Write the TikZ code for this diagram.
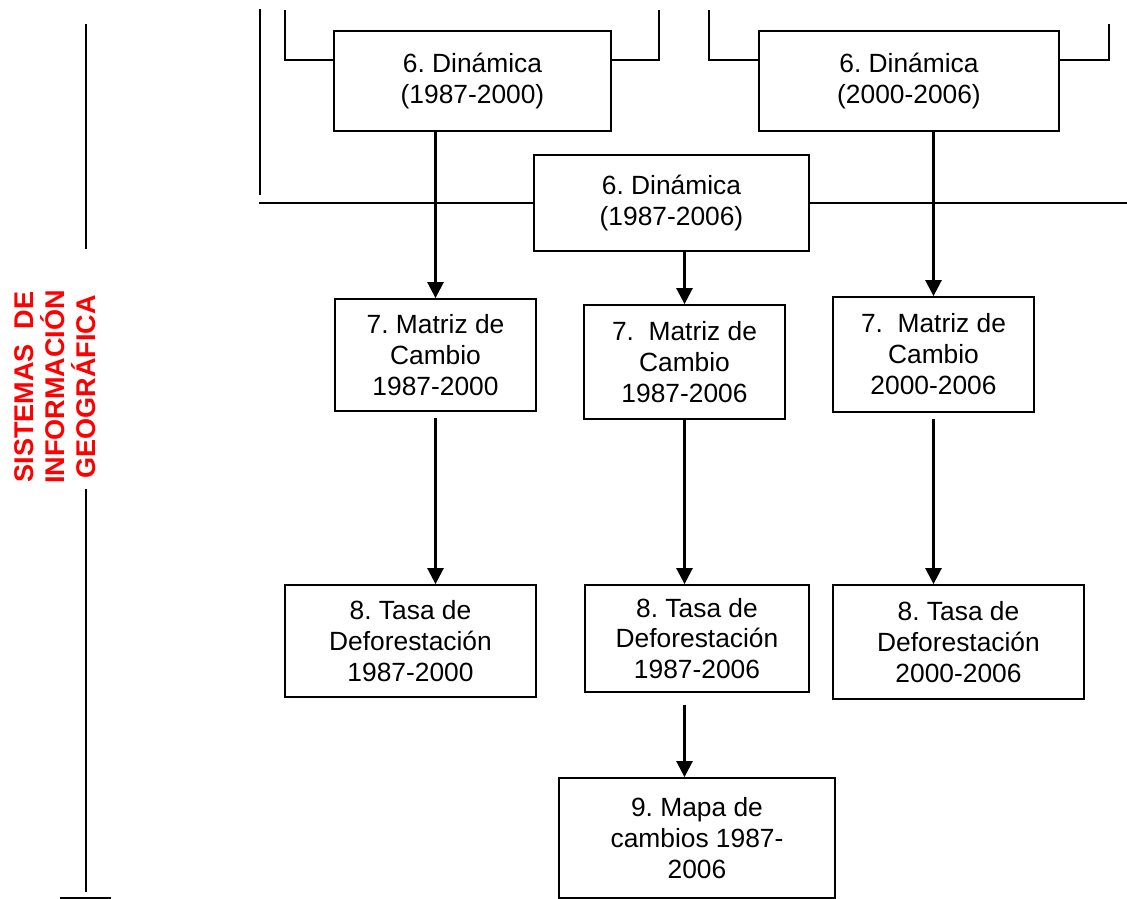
\documentclass[tikz,border=0pt]{standalone}
\usepackage{fontspec}
\setmainfont{Liberation Sans}
\usetikzlibrary{arrows.meta, positioning, calc}
\frenchspacing

\begin{document}
\begin{tikzpicture}[x=0.02cm, y=-0.02cm,
    >={Triangle[length=0.32cm, width=0.32cm]},
    step box/.style={draw, line width=1pt, align=center, inner sep=0pt,
      font=\fontsize{15}{17.6}\selectfont},
    flow/.style={->, line width=1.4pt},
    link/.style={line width=0.8pt},
    side label/.style={rotate=90, align=center, text=red,
      font=\fontsize{15.4}{17.6}\selectfont\bfseries}]
  \useasboundingbox (0,0) rectangle (1127,899);

  % dinamica
  \node[step box, minimum width=5.54cm, minimum height=2cm] (d1) at (472.5,81) {6. Dinámica\\(1987-2000)};
  \node[step box, minimum width=6cm, minimum height=2cm] (d2) at (909,81) {6. Dinámica\\(2000-2006)};
  \node[step box, minimum width=5.5cm, minimum height=1.92cm] (d3) at (671.5,203) {6. Dinámica\\(1987-2006)};
  % matrices
  \node[step box, minimum width=4.02cm, minimum height=2.24cm] (m1) at (435.5,355) {7. Matriz de\\Cambio\\1987-2000};
  \node[step box, minimum width=4.02cm, minimum height=2.28cm] (m2) at (684.5,362) {7.~ Matriz de\\Cambio\\1987-2006};
  \node[step box, minimum width=4.02cm, minimum height=2.3cm] (m3) at (933.5,354.5) {7.~ Matriz de\\Cambio\\2000-2006};
  % tasas
  \node[step box, minimum width=5.02cm, minimum height=2.24cm] (t1) at (410.5,641) {8. Tasa de\\Deforestación\\1987-2000};
  \node[step box, minimum width=4.48cm, minimum height=2.14cm] (t2) at (697,638.5) {8. Tasa de\\Deforestación\\1987-2006};
  \node[step box, minimum width=5.02cm, minimum height=2.28cm] (t3) at (958.5,642) {8. Tasa de\\Deforestación\\2000-2006};
  \node[step box, minimum width=5.52cm, minimum height=2.4cm] (map) at (697,838) {9. Mapa de\\cambios 1987-\\2006};

  \node[side label] (sig) at (55,387) {SISTEMAS~ DE\\INFORMACIÓN\\GEOGRÁFICA};

  % side lines
  \coordinate (tie) at (0,60);
  \draw[link] (d1.west |- tie) -| (285,10);
  \draw[link] (d1.east |- tie) -| (659,10);
  \draw[link] (d2.west |- tie) -| (709,10);
  \draw[link] (d2.east |- tie) -| (1109,24);
  \draw[link] (260,9) -- (260,195);
  \draw[link] (d3.west) -- ++(-274,0);
  \draw[link] (d3.east) -- ++(318,0);

  % flechas
  \draw[flow] (m1.north |- d1.south) -- (m1.north);
  \draw[flow] (m2.north |- d3.south) -- (m2.north);
  \draw[flow] (m3.north |- d2.south) -- (m3.north);
  \draw[flow, shorten <=0.12cm] (m1.south) -- (m1.south |- t1.north);
  \draw[flow] (m2.south) -- (m2.south |- t2.north);
  \draw[flow, shorten <=0.12cm] (m3.south) -- (m3.south |- t3.north);
  \draw[flow, shorten <=0.24cm] (m2.south |- t2.south) -- (m2.south |- map.north);

  % eje izquierdo
  \draw[line width=1pt] (86,24) -- (86,249);
  \draw[line width=1pt] (86,489) -- (86,892);
  \draw[line width=1.2pt] (60,898) -- (111,898);
\end{tikzpicture}
\end{document}
